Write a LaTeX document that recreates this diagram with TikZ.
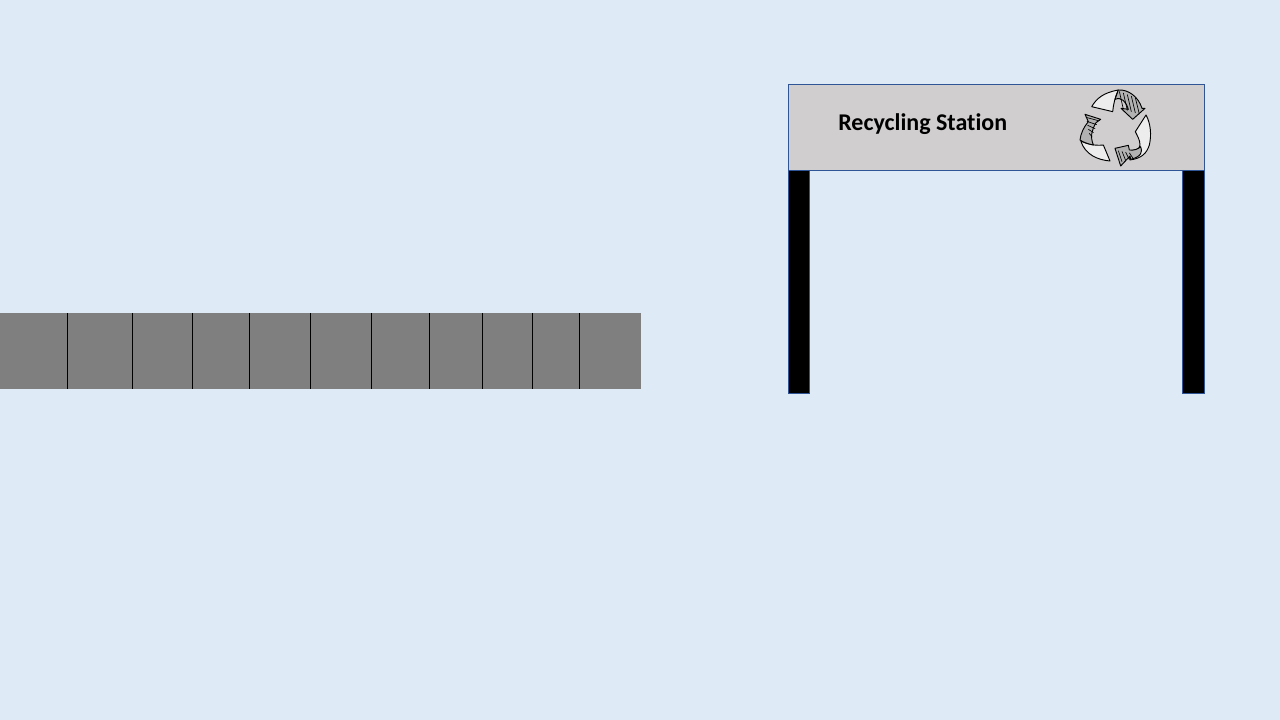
\documentclass[tikz,border=0pt]{standalone}
\usepackage{fontspec}
\setmainfont{Carlito}[Ligatures=NoCommon]
\definecolor{skyback}{RGB}{222,234,246}
\definecolor{beltgray}{RGB}{127,127,127}
\definecolor{signgray}{RGB}{208,206,206}
\definecolor{signblue}{RGB}{47,85,151}
\tikzset{
  outlined/.style={draw=signblue,line width=0.75pt},
  blade/.style={draw=black,line width=0.7pt,fill=black!7,line join=round},
  shade/.style={draw=black,line width=0.7pt,fill=black!30,line join=round},
  hatch/.style={black,line width=0.5pt},
}
\begin{document}
\begin{tikzpicture}[x=0.75pt,y=-0.75pt]
        \useasboundingbox (0,0) rectangle (1280,720);
        \fill[skyback] (0,0) rectangle (1280,720);

        % belt
        \fill[beltgray] (0,313) rectangle (641,389);
        \foreach \xpos in {67.5,132.5,192.5,249.5,310.5,371.5,429.5,482.5,532.5,579.5}
            \draw[black,line width=0.75pt] (\xpos,313) -- (\xpos,389);

        % station
        \draw[outlined,fill=black] (788.5,170.5) rectangle (809.5,393.5);
        \draw[outlined,fill=black] (1182.5,170.5) rectangle (1204.5,393.5);
        \draw[outlined,fill=signgray] (788.5,84.5) rectangle (1204.5,170.5);
        \node[anchor=base west,inner sep=0pt,font=\bfseries\fontsize{18}{22}\selectfont] (stationlabel) at (838,131) {Recycling Station};

        % recycling symbol
        \begin{scope}[shift={(1060,80)},x=0.25pt,y=-0.25pt]
            % top arrow
            \draw[blade] (95,80) .. controls (110,55) and (130,38) .. (175,30) .. controls (165,50) and (160,75) .. (158,95) -- cycle;
            \draw[shade] (175,30) .. controls (205,28) and (235,50) .. (246,85) -- (255,85) -- (218,118) -- (183,85) -- (205,88) .. controls (198,65) and (185,50) .. (165,58) -- cycle;
            \foreach \dx in {0,12,...,48}
                \draw[hatch] (178+\dx,34+0.4*\dx) -- (190+\dx,88+0.3*\dx);
            % right arrow
            \draw[blade] (258,105) .. controls (272,130) and (275,165) .. (268,195) .. controls (260,220) and (245,235) .. (210,240) -- (205,212) .. controls (225,212) and (240,208) .. (240,195) .. controls (240,180) and (232,168) .. (226,155) -- cycle;
            \draw[shade] (165,205) -- (205,196) -- (208,210) .. controls (222,212) and (235,207) .. (242,200) .. controls (248,215) and (245,230) .. (212,238) -- (210,228) -- (182,258) -- cycle;
            \foreach \dx in {0,11,...,42}
                \draw[hatch] (175+\dx,212+0.2*\dx) -- (186+\dx,245-0.3*\dx);
            % left arrow
            \draw[blade] (62,182) .. controls (78,192) and (105,198) .. (130,195) -- (150,243) .. controls (115,240) and (75,225) .. (62,182) -- cycle;
            \draw[shade] (75,103) -- (122,118) -- (108,128) .. controls (95,150) and (90,170) .. (100,195) .. controls (85,192) and (70,187) .. (60,180) .. controls (62,160) and (72,140) .. (85,125) -- cycle;
            \foreach \dy in {0,12,...,56}
                \draw[hatch] (78+0.2*\dy,112+\dy) -- (115-0.4*\dy,122+\dy);
        \end{scope}
    \end{tikzpicture}
\end{document}
